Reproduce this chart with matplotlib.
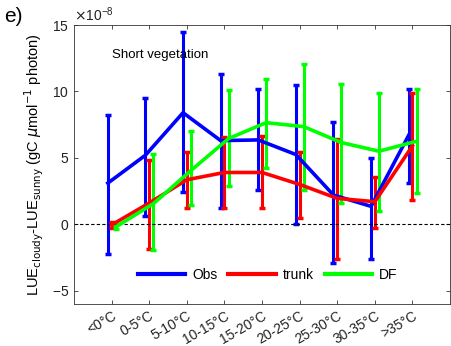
import numpy as np
import matplotlib
matplotlib.use("Agg")
import matplotlib.pyplot as plt
from matplotlib.lines import Line2D

plt.rcParams['font.family'] = ['Arial', 'Liberation Sans', 'DejaVu Sans']

cats = ['<0°C', '0-5°C', '5-10°C', '10-15°C', '15-20°C', '20-25°C', '25-30°C', '30-35°C', '>35°C']

# values in 1e-8 gC/umol photon
obs_mean = [3.1, 5.2, 8.4, 6.3, 6.35, 5.25, 2.2, 1.35, 6.7]
obs_hi = [8.2, 9.5, 14.5, 11.3, 10.2, 10.5, 7.7, 5.0, 10.2]
obs_lo = [-2.25, 0.65, 2.4, 1.2, 2.55, 0.0, -2.9, -2.6, 3.1]

trunk_mean = [-0.05, 1.6, 3.35, 3.9, 3.9, 3.0, 1.95, 1.7, 5.9]
trunk_hi = [0.15, 4.85, 5.45, 6.6, 6.65, 5.45, 6.4, 3.55, 9.9]
trunk_lo = [-0.3, -1.85, 1.2, 1.2, 1.2, 0.5, -2.65, -0.25, 1.8]

df_mean = [-0.2, 1.55, 4.05, 6.45, 7.65, 7.35, 6.15, 5.5, 6.25]
df_hi = [0.05, 5.3, 7.0, 10.1, 10.95, 12.05, 10.55, 9.85, 10.15]
df_lo = [-0.35, -1.95, 1.45, 2.85, 4.25, 2.55, 1.6, 1.0, 2.35]

x = np.arange(1, len(cats) + 1)
sc = 1e-8

fig = plt.figure(figsize=(4.52, 3.46), dpi=100)
ax = fig.add_axes([0.1637, 0.1214, 0.832, 0.8063])

series = [
    ('Obs', obs_mean, obs_lo, obs_hi, '#0000ff', -0.1),
    ('trunk', trunk_mean, trunk_lo, trunk_hi, '#ff0000', 0.0),
    ('DF', df_mean, df_lo, df_hi, '#00ff00', 0.11),
]
handles = []
for name, m, lo, hi, c, off in series:
    m = np.array(m) * sc
    lo = np.array(lo) * sc
    hi = np.array(hi) * sc
    ax.errorbar(x + off, m, yerr=[m - lo, hi - m], color=c, lw=2.6,
                elinewidth=2.2, capsize=2.5, capthick=2.5)
    handles.append(Line2D([], [], color=c, lw=3, label=name))

ax.axhline(0, color='k', ls='--', lw=0.8, dashes=(3, 2))

ax.set_xlim(0, 10)
ax.set_ylim(-6e-8, 15e-8)
ax.set_yticks(np.array([-5, 0, 5, 10, 15]) * sc)
ax.set_xticks(x)
ax.set_xticklabels(cats, rotation=30, ha='right', rotation_mode='anchor', fontsize=10)
ax.ticklabel_format(axis='y', style='sci', scilimits=(-8, -8), useMathText=True)
ax.yaxis.get_offset_text().set_fontsize(10)
ax.tick_params(direction='in', top=True, right=True, labelsize=10, length=3, width=0.6,
               colors='#333333', labelcolor='#222222')
for s in ax.spines.values():
    s.set_linewidth(0.6)
    s.set_color('#333333')

ax.set_ylabel(r'LUE$_{\rm cloudy}$-LUE$_{\rm sunny}$ (gC $\mu$mol$^{-1}$ photon)', fontsize=10.5)
ax.text(0.1, 0.88, 'Short vegetation', transform=ax.transAxes, fontsize=9.5)
fig.text(0.01, 0.935, 'e)', fontsize=15)

ax.legend(handles=handles, loc='lower center', bbox_to_anchor=(0.515, 0.035), ncol=3,
          frameon=False, handlelength=3.4, columnspacing=0.8, handletextpad=0.5, fontsize=10)

fig.savefig('out.png', dpi=100)
